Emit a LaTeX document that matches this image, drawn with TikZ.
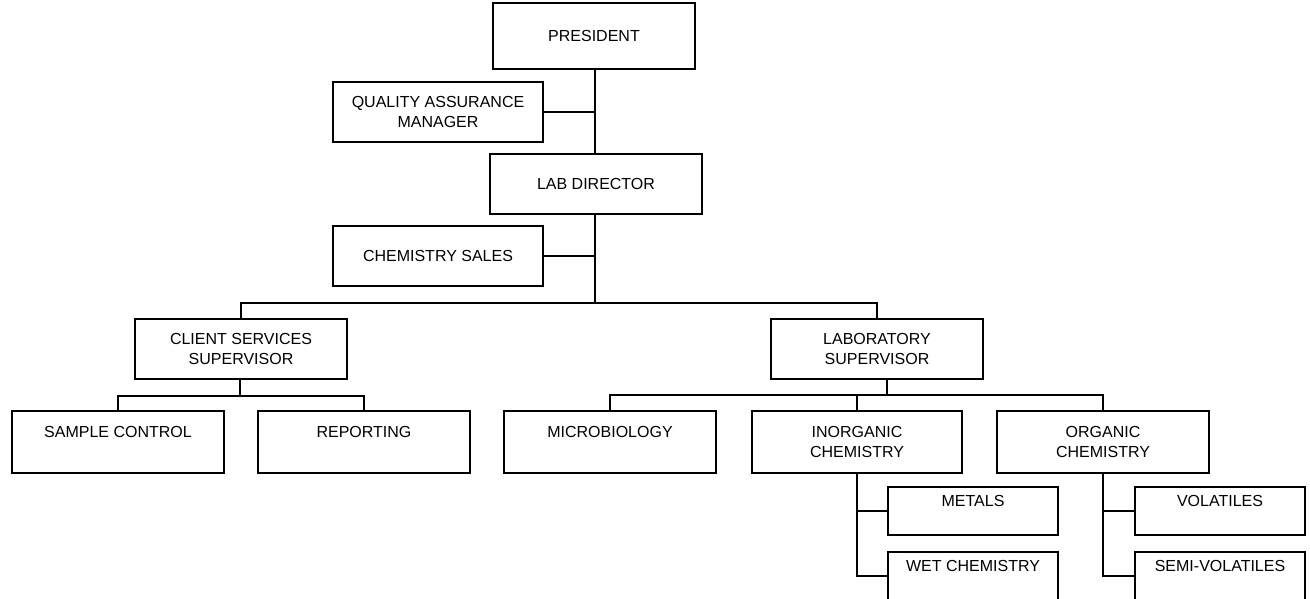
\documentclass[tikz,border=0pt]{standalone}
\usepackage{fontspec}
\setmainfont{Liberation Sans}

\begin{document}
\begin{tikzpicture}[x=1pt, y=-1pt,
    ufficio/.style={draw, line width=2pt, minimum width=212pt, minimum height=60pt, inner sep=0pt, align=center, font=\fontsize{16}{20}\selectfont},
    reparto/.style={ufficio, minimum width=170pt, minimum height=48pt},
    linea/.style={line width=2pt}]
    \clip (0, 0) rectangle (1310, 599);

    % Direzione
    \node[ufficio, minimum width=202pt, minimum height=66pt] (pres) at (594, 36) {PRESIDENT};
    \node[ufficio, minimum width=210pt] (qa) at (438, 112) {QUALITY ASSURANCE\\MANAGER};
    \node[ufficio] (dir) at (596, 184) {LAB DIRECTOR};
    \node[ufficio, minimum width=210pt] (sales) at (438, 256) {CHEMISTRY SALES};

    % Supervisori
    \node[ufficio] (client) at (241, 349) {CLIENT SERVICES\\SUPERVISOR};
    \node[ufficio] (labsup) at (877, 349) {LABORATORY\\SUPERVISOR};

    % Reparti
    \node[ufficio, minimum height=62pt] (sample) at (118, 442) {SAMPLE CONTROL\\~};
    \node[ufficio, minimum height=62pt] (report) at (364, 442) {REPORTING\\~};
    \node[ufficio, minimum height=62pt] (micro) at (610, 442) {MICROBIOLOGY\\~};
    \node[ufficio, minimum width=210pt, minimum height=62pt] (inorg) at (857, 442) {INORGANIC\\CHEMISTRY};
    \node[ufficio, minimum height=62pt] (org) at (1103, 442) {ORGANIC\\CHEMISTRY};

    % Laboratori
    \node[reparto] (metals) at (973, 511) {METALS\\~};
    \node[reparto] (wet) at (973, 576) {WET CHEMISTRY\\~};
    \node[reparto] (vol) at (1220, 511) {VOLATILES\\~};
    \node[reparto] (semivol) at (1220, 576) {SEMI-VOLATILES\\~};

    % Punti di snodo
    \coordinate (busA) at (595, 303);
    \coordinate (busB) at (240, 396);
    \coordinate (busC) at (887, 395);

    % Collegamenti
    \draw[linea] (pres.south -| busA) -- (dir.north -| busA);
    \draw[linea] (qa.east) -- (qa.east -| busA);
    \draw[linea] (dir.south -| busA) -- (busA);
    \draw[linea] (sales.east) -- (sales.east -| busA);
    \draw[linea] (client.north) |- (busA) -| (labsup.north);

    \draw[linea] (client.south -| busB) -- (busB);
    \draw[linea] (sample.north) |- (busB) -| (report.north);

    \draw[linea] (labsup.south -| busC) -- (busC);
    \draw[linea] (micro.north) |- (busC) -| (org.north);
    \draw[linea] (inorg.north) -- (inorg.north |- busC);

    \draw[linea] (inorg.south) |- (metals.west);
    \draw[linea] (inorg.south) |- (wet.west);
    \draw[linea] (org.south) |- (vol.west);
    \draw[linea] (org.south) |- (semivol.west);
\end{tikzpicture}
\end{document}
